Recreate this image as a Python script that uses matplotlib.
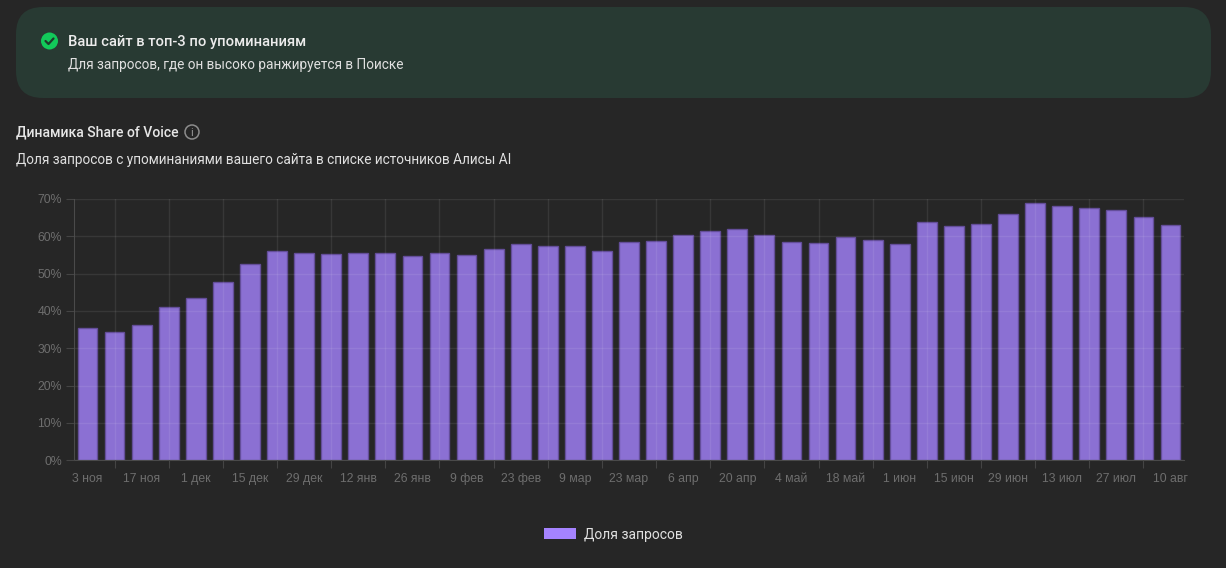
import matplotlib
matplotlib.use("Agg")
import matplotlib.pyplot as plt
from matplotlib.patches import FancyBboxPatch, Circle, Patch
import numpy as np

plt.rcParams['font.family'] = ['Roboto', 'DejaVu Sans']

W, H = 1226, 568
BG = '#262626'

# данные
dates = ['3 ноя', '17 ноя', '1 дек', '15 дек', '29 дек', '12 янв', '26 янв', '9 фев',
         '23 фев', '9 мар', '23 мар', '6 апр', '20 апр', '4 май', '18 май', '1 июн',
         '15 июн', '29 июн', '13 июл', '27 июл', '10 авг']
share = [35.5, 34.4, 36.2, 41.0, 43.6, 47.7, 52.5, 56.0, 55.5, 55.2, 55.6, 55.4, 54.8, 55.4,
         55.0, 56.6, 58.0, 57.3, 57.4, 56.0, 58.5, 58.7, 60.3, 61.4, 62.0, 60.4, 58.5, 58.1,
         59.7, 59.0, 57.9, 63.8, 62.7, 63.4, 66.1, 69.0, 68.0, 67.6, 67.0, 65.2, 63.0]
y_ticks = [0, 10, 20, 30, 40, 50, 60, 70]

fig = plt.figure(figsize=(W / 100, H / 100), dpi=100, facecolor=BG)

# слой с шапкой в пикселях
top = fig.add_axes([0, 0, 1, 1])
top.set_xlim(0, W)
top.set_ylim(H, 0)
top.axis('off')

top.add_patch(FancyBboxPatch((16 + 27, 7 + 27), 1195 - 54, 91 - 54,
                             boxstyle='round,pad=27,rounding_size=27',
                             fc='#283a33', ec='none'))
top.add_patch(Circle((49.5, 41), 8.5, fc='#12c95a', ec='none'))
top.plot([45.5, 48.5, 53.5], [41, 44, 38.5], color='#1f3a2c', lw=1.6,
         solid_capstyle='round', solid_joinstyle='round')
top.text(68, 42, 'Ваш сайт в топ-3 по упоминаниям', color='#ececec', fontsize=10.65,
         weight='medium', va='center')
top.text(68, 64.5, 'Для запросов, где он высоко ранжируется в Поиске', color='#e0e0e0',
         fontsize=9.8, va='center')

top.text(16, 132, 'Динамика Share of Voice', color='#e6e6e6', fontsize=10.05,
         weight='medium', va='center')
top.add_patch(Circle((192, 132), 7, fc='none', ec='#8c8c8c', lw=1.1))
top.text(192, 132.5, 'i', color='#9a9a9a', fontsize=8, ha='center', va='center')
top.text(16, 160, 'Доля запросов с упоминаниями вашего сайта в списке источников Алисы AI',
         color='#e0e0e0', fontsize=9.84, va='center')

# график
ax = fig.add_axes([74 / W, 1 - 460.3 / H, 1110 / W, 261.3 / H], facecolor='none')
x = np.arange(len(share))
ax.bar(x, share, width=0.73, color=(0.647, 0.514, 1.0, 0.8),
       edgecolor=(0.40, 0.31, 0.62, 0.9), linewidth=1.0)

ax.set_xlim(-0.5, len(share) - 0.5)
ax.set_ylim(0, 70)
ax.set_yticks(y_ticks)
ax.set_yticklabels([f'{v}%' for v in y_ticks], family='Liberation Sans')
ax.set_xticks(x[1::2])
ax.set_xticklabels([])
ax.set_xticks(x[0::2], minor=True)
ax.set_xticklabels(dates, minor=True, family='Liberation Sans')

# сетка поверх столбцов, полупрозрачная
ax.set_axisbelow(False)
ax.grid(True, which='major', color='white', alpha=0.08, linewidth=1)
ax.tick_params(axis='both', which='major', length=5.8, width=0.8, color='#444444',
               labelcolor='#6e6e6e', labelsize=8.8, pad=3)
ax.tick_params(axis='x', which='minor', length=0, labelcolor='#6e6e6e', labelsize=8.8, pad=9)
for side in ('top', 'right'):
    ax.spines[side].set_visible(False)
for side in ('left', 'bottom'):
    ax.spines[side].set_color('#4a4a4a')
    ax.spines[side].set_linewidth(0.8)

handle = Patch(facecolor='#a583ff', edgecolor='none', label='Доля запросов')
fig.legend(handles=[handle], loc='center', bbox_to_anchor=(613.5 / W, 1 - 534.5 / H),
           frameon=False, fontsize=10, labelcolor='#e0e0e0', handlelength=2.3,
           handleheight=0.85, handletextpad=0.6)

fig.savefig('out.png', dpi=100, facecolor=BG)
